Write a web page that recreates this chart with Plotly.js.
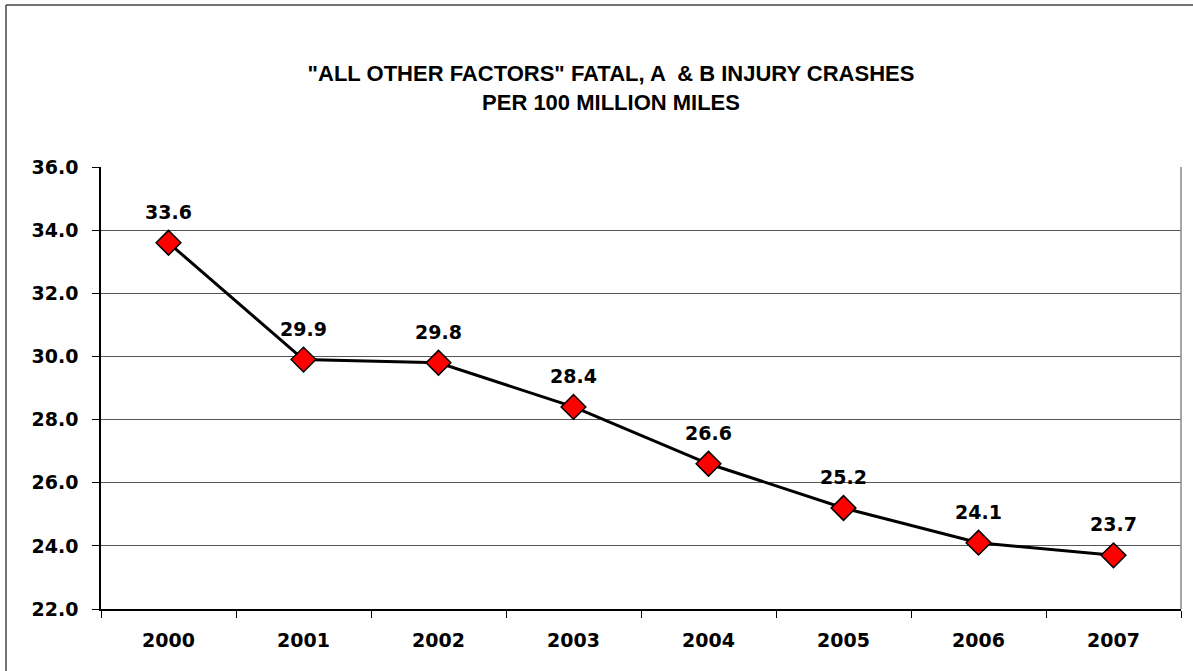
<!DOCTYPE html>
<html>
<head>
<meta charset="utf-8">
<script src="https://cdn.plot.ly/plotly-3.0.1.min.js"></script>
<style>html,body{margin:0;padding:0;background:#fff;}#chart{width:1193px;height:671px;}</style>
</head>
<body>
<div id="chart"></div>
<script>
const years = ['2000','2001','2002','2003','2004','2005','2006','2007'];
const rates = [33.6, 29.9, 29.8, 28.4, 26.6, 25.2, 24.1, 23.7];
const yTicks = [22, 24, 26, 28, 30, 32, 34, 36];
const titleLines = ['"ALL OTHER FACTORS" FATAL, A  &amp; B INJURY CRASHES', 'PER 100 MILLION MILES'];

function lf() { return {family: 'DejaVu Sans', size: 19, color: '#000', weight: 'bold'}; }

const trace = {
  x: years, y: rates, type: 'scatter', mode: 'lines+markers',
  line: {color: '#000', width: 3},
  marker: {symbol: 'diamond', size: 19, color: '#ff0000', line: {color: '#000', width: 1.5}},
  hoverinfo: 'skip', cliponaxis: false
};

const annotations = years.map((yr, i) => ({
  x: i, y: rates[i], xref: 'x', yref: 'y', text: '<b>' + rates[i].toFixed(1) + '</b>',
  showarrow: false, yshift: 31, xanchor: 'center', yanchor: 'middle',
  font: {family: 'DejaVu Sans', size: 19, color: '#000'}
}));

const layout = {
  width: 1193, height: 671,
  margin: {l: 101, r: 12, t: 167, b: 62},
  paper_bgcolor: '#fff', plot_bgcolor: '#fff',
  showlegend: false,
  title: {
    text: '<b>' + titleLines.join('<br>') + '</b>',
    x: 611/1193, xref: 'container', xanchor: 'center',
    y: 1 - 81/671, yref: 'container', yanchor: 'middle',
    font: {family: 'Liberation Sans', size: 22, color: '#000'}
  },
  xaxis: {
    type: 'category', range: [-0.5, 7.5], tickson: 'boundaries',
    ticks: 'outside', ticklen: 7, tickcolor: '#000', tickwidth: 1,
    showline: true, linecolor: '#000', linewidth: 1.5,
    showgrid: false, zeroline: false, fixedrange: true,
    tickfont: lf(), ticklabelstandoff: 13
  },
  yaxis: {
    range: [22, 36], tickvals: yTicks, ticktext: yTicks.map(v => v.toFixed(1)),
    ticks: 'outside', ticklen: 7, tickcolor: '#000', tickwidth: 1,
    showline: true, linecolor: '#000', linewidth: 1.5,
    showgrid: true, gridcolor: '#555', gridwidth: 1, zeroline: false, fixedrange: true,
    tickfont: lf(), ticklabelstandoff: 10
  },
  annotations: annotations,
  shapes: [
    {type: 'line', xref: 'paper', yref: 'paper', x0: 1, x1: 1, y0: 0, y1: 1, line: {color: '#888', width: 1.5}},
    {type: 'line', xref: 'paper', yref: 'paper', x0: -95/1080, x1: 1.2, y0: 604/442, y1: 604/442, line: {color: '#444', width: 1.5}},
    {type: 'line', xref: 'paper', yref: 'paper', x0: -95/1080, x1: -95/1080, y0: -0.5, y1: 604/442, line: {color: '#444', width: 1.5}}
  ]
};

Plotly.newPlot('chart', [trace], layout, {displayModeBar: false});
</script>
</body>
</html>
